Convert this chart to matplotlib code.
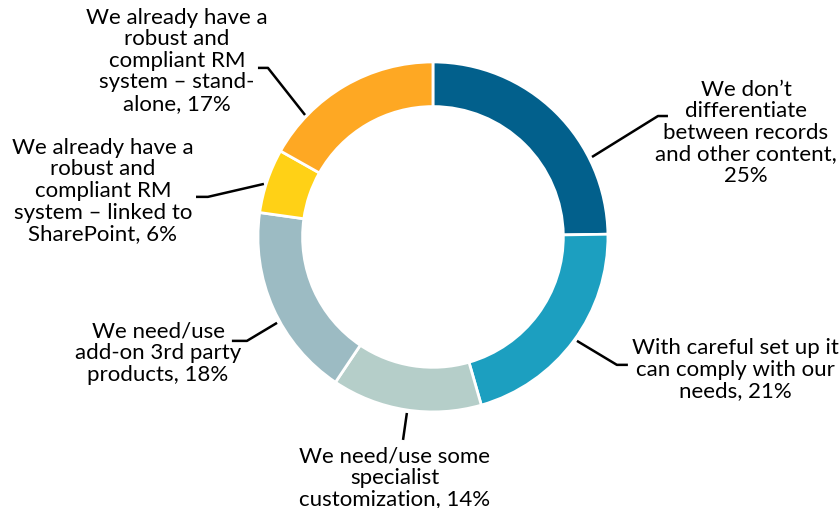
import matplotlib.pyplot as plt

labels = [
    "We don\u2019t\ndifferentiate\nbetween records\nand other content,",
    "With careful set up it\ncan comply with our\nneeds,",
    "We need/use some\nspecialist\ncustomization,",
    "We need/use\nadd-on 3rd party\nproducts,",
    "We already have a\nrobust and\ncompliant RM\nsystem \u2013 linked to\nSharePoint,",
    "We already have a\nrobust and\ncompliant RM\nsystem \u2013 stand-\nalone,",
]
values = [25, 21, 14, 18, 6, 17]
colors = ["#02608C", "#1C9FC0", "#B5CEC9", "#9CBBC3", "#FFD116", "#FEA823"]

# leader line points (pie units, radius 1) and text centre for each label
leaders = [
    [(0.909, 0.457), (1.286, 0.691), (1.343, 0.691)],
    [(0.823, -0.594), (1.051, -0.731), (1.114, -0.731)],
    [(-0.149, -1.006), (-0.171, -1.16)],
    [(-0.891, -0.491), (-1.063, -0.594), (-1.149, -0.594)],
    [(-0.966, 0.303), (-1.286, 0.229), (-1.354, 0.229)],
    [(-0.731, 0.697), (-0.943, 0.966), (-1.0, 0.966)],
]
text_pos = [(1.789, 0.594), (1.726, -0.76), (-0.217, -1.377),
            (-1.571, -0.663), (-1.886, 0.263), (-1.463, 1.006)]


def label_text(label, value):
    # the percentage goes on its own line unless the label ends mid-line
    if label.endswith("content,"):
        return f"{label}\n{value}%"
    return f"{label} {value}%"


fig = plt.figure(figsize=(8.4, 5.08), dpi=100)
ax = fig.add_axes([0, 0, 1, 1])
ax.pie(values, colors=colors, startangle=90, counterclock=False,
       radius=1.0, wedgeprops=dict(width=0.255, edgecolor="white", linewidth=2))

for label, value, pts, (tx, ty) in zip(labels, values, leaders, text_pos):
    xs, ys = zip(*pts)
    ax.plot(xs, ys, color="black", linewidth=1.8, solid_capstyle="butt")
    ax.text(tx, ty, label_text(label, value), ha="center", va="center",
            fontsize=16, family="Lato", linespacing=1.1, color="black")

ax.set_aspect("equal")
ax.set_xlim(-2.474, 2.326)
ax.set_ylim(-1.549, 1.354)
ax.axis("off")

fig.savefig("out.png", dpi=100)
